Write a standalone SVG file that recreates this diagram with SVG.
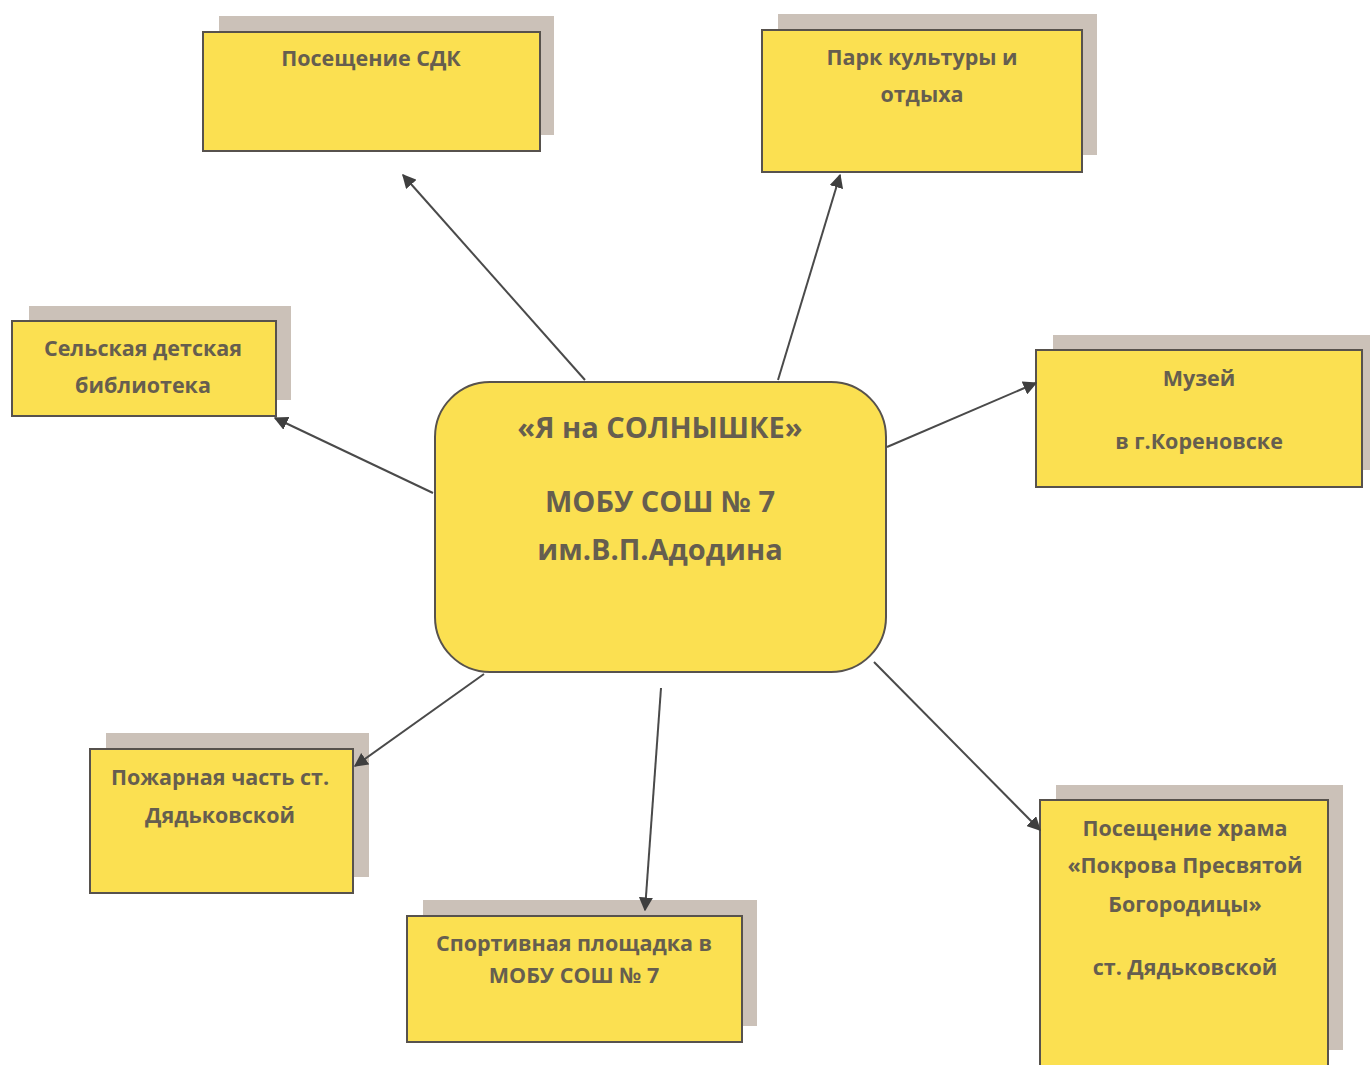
<svg xmlns="http://www.w3.org/2000/svg" width="1370" height="1065" viewBox="0 0 1370 1065">
<defs>
<style>
.shadow{fill:#cbc1b8}
.box{fill:#fbe051;stroke:#57524d;stroke-width:2}
.t{font-family:"Open Sans","Noto Sans","Liberation Sans",sans-serif;font-weight:bold;fill:#665e4f;text-anchor:middle;font-size:21.5px}
.tc{font-size:29px}
.conn line{stroke:#4a4a4a;stroke-width:2;fill:none;marker-end:url(#ah)}
</style>
<marker id="ah" viewBox="0 0 10 10" refX="9" refY="5" markerWidth="14" markerHeight="14" orient="auto" markerUnits="userSpaceOnUse">
<path d="M0,0 L10,5 L0,10 z" fill="#3f3f3f"/>
</marker>
</defs>
<rect width="1370" height="1065" fill="#ffffff"/>
<g id="sdk">
<rect class="shadow" x="219" y="16" width="335" height="119"/>
<rect class="box" x="203" y="32" width="337" height="119"/>
<text class="t" x="371" y="66">Посещение СДК</text>
</g>
<g id="park">
<rect class="shadow" x="778" y="14" width="319" height="141"/>
<rect class="box" x="762" y="30" width="320" height="142"/>
<text class="t" x="922" y="65">Парк культуры и</text>
<text class="t" x="922" y="102">отдыха</text>
</g>
<g id="library">
<rect class="shadow" x="29" y="306" width="262" height="94"/>
<rect class="box" x="12" y="321" width="264" height="95"/>
<text class="t" x="143" y="356">Сельская детская</text>
<text class="t" x="143" y="393">библиотека</text>
</g>
<g id="museum">
<rect class="shadow" x="1053" y="335" width="317" height="135"/>
<rect class="box" x="1036" y="350" width="326" height="137"/>
<text class="t" x="1199" y="386">Музей</text>
<text class="t" x="1199" y="449">в г.Кореновске</text>
</g>
<g id="center">
<rect class="box" x="435" y="382" width="451" height="290" rx="55" ry="55"/>
<text class="t tc" x="660" y="438">«Я на СОЛНЫШКЕ»</text>
<text class="t tc" x="660" y="512">МОБУ СОШ № 7</text>
<text class="t tc" x="660" y="560">им.В.П.Адодина</text>
</g>
<g id="fire">
<rect class="shadow" x="106" y="733" width="263" height="144"/>
<rect class="box" x="90" y="749" width="263" height="144"/>
<text class="t" x="220" y="785">Пожарная часть ст.</text>
<text class="t" x="220" y="823">Дядьковской</text>
</g>
<g id="sport">
<rect class="shadow" x="423" y="900" width="334" height="126"/>
<rect class="box" x="407" y="916" width="335" height="126"/>
<text class="t" x="574" y="951">Спортивная площадка в</text>
<text class="t" x="574" y="983">МОБУ СОШ № 7</text>
</g>
<g id="church">
<rect class="shadow" x="1056" y="785" width="287" height="265"/>
<rect class="box" x="1040" y="800" width="288" height="270"/>
<text class="t" x="1185" y="836">Посещение храма</text>
<text class="t" x="1185" y="873">«Покрова Пресвятой</text>
<text class="t" x="1185" y="912">Богородицы»</text>
<text class="t" x="1185" y="975">ст. Дядьковской</text>
</g>
<g class="conn">
<line x1="585" y1="380" x2="403" y2="175"/>
<line x1="778" y1="380" x2="840" y2="175"/>
<line x1="887" y1="447" x2="1036" y2="383"/>
<line x1="433" y1="493" x2="275" y2="418"/>
<line x1="484" y1="674" x2="355" y2="766"/>
<line x1="661" y1="688" x2="645" y2="910"/>
<line x1="874" y1="662" x2="1040" y2="830"/>
</g>
</svg>
